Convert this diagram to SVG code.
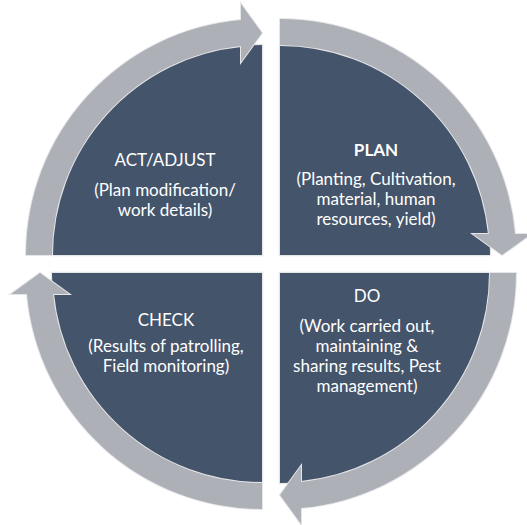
<svg xmlns="http://www.w3.org/2000/svg" xmlns:xlink="http://www.w3.org/1999/xlink" width="527" height="525" viewBox="0 0 527 525">
  <style>
    .wedge { fill: #44546a; stroke: #e5e6e8; stroke-width: 2.5; paint-order: stroke; }
    .ring { fill: #adb0b7; stroke: #e5e6e8; stroke-width: 2; paint-order: stroke; }
    .lbl { fill: #ffffff; font-family: Lato, "Liberation Sans", sans-serif; font-size: 17px; text-anchor: middle; }
    .ttl { font-weight: bold; }
  </style>
  <defs>
    <!-- quarter pie, drawn for the upper-right position, origin at its corner -->
    <path id="wedge" d="M0,0 L0,-210 A210,210 0 0 1 210,0 Z"/>
    <!-- curved arrow band with head, same orientation as the wedge -->
    <path id="arc-arrow" d="M0,-236 A236,236 0 0 1 235.06,-21 L251,-21 L222,0 L193,-21 L208.95,-21 A210,210 0 0 0 0,-210 Z"/>
  </defs>

  <rect width="527" height="525" fill="#ffffff"/>

  <g id="node-plan">
    <use xlink:href="#wedge" class="wedge" transform="translate(280,255)"/>
    <text class="lbl ttl" x="376" y="156">PLAN</text>
    <text class="lbl" x="376" y="185">(Planting, Cultivation,</text>
    <text class="lbl" x="376" y="205">material, human</text>
    <text class="lbl" x="376" y="225">resources, yield)</text>
  </g>

  <g id="node-do">
    <use xlink:href="#wedge" class="wedge" transform="translate(280,273) rotate(90)"/>
    <text class="lbl" x="367" y="302">DO</text>
    <text class="lbl" x="367" y="332">(Work carried out,</text>
    <text class="lbl" x="367" y="352">maintaining &amp;</text>
    <text class="lbl" x="367" y="372">sharing results, Pest</text>
    <text class="lbl" x="367" y="392">management)</text>
  </g>

  <g id="node-check">
    <use xlink:href="#wedge" class="wedge" transform="translate(262,273) rotate(180)"/>
    <text class="lbl" x="166" y="326">CHECK</text>
    <text class="lbl" x="166" y="352">(Results of patrolling,</text>
    <text class="lbl" x="166" y="372">Field monitoring)</text>
  </g>

  <g id="node-act">
    <use xlink:href="#wedge" class="wedge" transform="translate(262,255) rotate(270)"/>
    <text class="lbl" x="165" y="166">ACT/ADJUST</text>
    <text class="lbl" x="165" y="196">(Plan modification/</text>
    <text class="lbl" x="165" y="216">work details)</text>
  </g>

  <g id="connectors">
    <use xlink:href="#arc-arrow" class="ring" transform="translate(280,255)"/>
    <use xlink:href="#arc-arrow" class="ring" transform="translate(280,273) rotate(90)"/>
    <use xlink:href="#arc-arrow" class="ring" transform="translate(262,273) rotate(180)"/>
    <use xlink:href="#arc-arrow" class="ring" transform="translate(262,255) rotate(270)"/>
  </g>
</svg>
